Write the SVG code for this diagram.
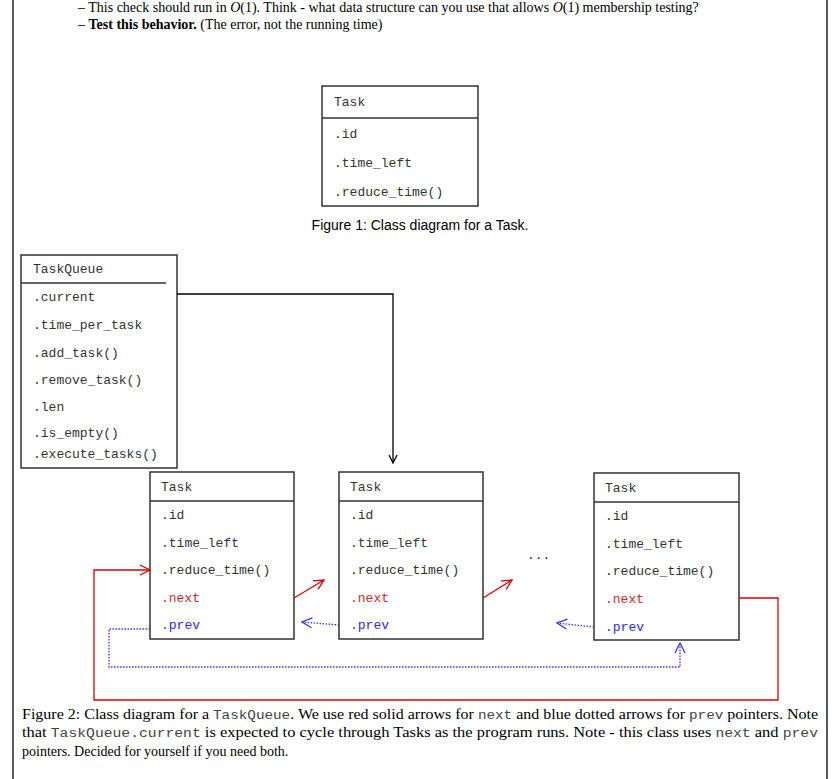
<svg xmlns="http://www.w3.org/2000/svg" width="836" height="779" viewBox="0 0 836 779">
<style>
.m{font-family:"Liberation Mono",monospace;font-size:13px;fill:#333}
.r{fill:#d62728}.b{fill:#2a2aff}
.s{font-family:"Liberation Serif",serif;font-size:14px;fill:#000}
.box{fill:#fff;stroke:#333;stroke-width:1.5}
.ln{fill:none;stroke:#333;stroke-width:1.5}
.red{fill:none;stroke:#d00;stroke-width:1.3}
.blu{fill:none;stroke:#33f;stroke-width:1.3;stroke-dasharray:1.5 1.5}
</style>
<defs>
<marker id="ab" markerWidth="10" markerHeight="10" refX="9" refY="5" orient="auto" markerUnits="userSpaceOnUse"><path d="M1,1 L9,5 L1,9" fill="none" stroke="#000" stroke-width="1.3"/></marker>
<marker id="ar" markerWidth="12" markerHeight="12" refX="11" refY="6" orient="auto" markerUnits="userSpaceOnUse"><path d="M1,1 L11,6 L1,11" fill="none" stroke="#d00" stroke-width="1.3"/></marker>
<marker id="au" markerWidth="12" markerHeight="12" refX="11" refY="6" orient="auto" markerUnits="userSpaceOnUse"><path d="M1,1 L11,6 L1,11" fill="none" stroke="#33f" stroke-width="1.3"/></marker>
</defs>
<rect width="836" height="779" fill="#fff"/>
<path d="M13,0V779M827,0V779" stroke="#000" stroke-width="1.3"/>
<text class="s" x="78" y="12">–  This check should run in <tspan font-style="italic">O</tspan>(1). Think - what data structure can you use that allows <tspan font-style="italic">O</tspan>(1) membership testing?</text>
<text class="s" x="78" y="29">–  <tspan font-weight="bold">Test this behavior.</tspan> (The error, not the running time)</text>

<g id="task-fig1">
<rect class="box" x="322" y="86" width="156" height="120"/>
<path class="ln" d="M322,118H478"/>
<text class="m" x="334" y="106">Task</text>
<text class="m" x="334" y="138">.id</text>
<text class="m" x="334" y="167">.time_left</text>
<text class="m" x="334" y="196">.reduce_time()</text>
</g>
<text class="s" x="420" y="230" text-anchor="middle" font-family="Liberation Sans Narrow, Liberation Sans, sans-serif" style="font-family:'Liberation Sans Narrow','Liberation Sans',sans-serif">Figure 1: Class diagram for a Task.</text>

<g id="taskqueue">
<rect class="box" x="21" y="255" width="156" height="213"/>
<path class="ln" d="M21,283H166"/>
<text class="m" x="33" y="273">TaskQueue</text>
<text class="m" x="33" y="301">.current</text>
<text class="m" x="33" y="329">.time_per_task</text>
<text class="m" x="33" y="357">.add_task()</text>
<text class="m" x="33" y="384">.remove_task()</text>
<text class="m" x="33" y="411">.len</text>
<text class="m" x="33" y="437">.is_empty()</text>
<text class="m" x="33" y="458">.execute_tasks()</text>
</g>

<g id="task1">
<rect class="box" x="150" y="472" width="144" height="167"/>
<path class="ln" d="M150,501H294"/>
<text class="m" x="161" y="491">Task</text>
<text class="m" x="161" y="519">.id</text>
<text class="m" x="161" y="547">.time_left</text>
<text class="m" x="161" y="574">.reduce_time()</text>
<text class="m r" x="161" y="602">.next</text>
<text class="m b" x="161" y="629">.prev</text>
</g>
<g id="task2">
<rect class="box" x="339" y="472" width="144" height="167"/>
<path class="ln" d="M339,501H483"/>
<text class="m" x="350" y="491">Task</text>
<text class="m" x="350" y="519">.id</text>
<text class="m" x="350" y="547">.time_left</text>
<text class="m" x="350" y="574">.reduce_time()</text>
<text class="m r" x="350" y="602">.next</text>
<text class="m b" x="350" y="629">.prev</text>
</g>
<g id="task3">
<rect class="box" x="594" y="473" width="145" height="167"/>
<path class="ln" d="M594,502H739"/>
<text class="m" x="605" y="492">Task</text>
<text class="m" x="605" y="520">.id</text>
<text class="m" x="605" y="548">.time_left</text>
<text class="m" x="605" y="575">.reduce_time()</text>
<text class="m r" x="605" y="603">.next</text>
<text class="m b" x="605" y="631">.prev</text>
</g>
<text class="m" x="527" y="559">...</text>

<g id="connectors">
<path d="M177,294H393V463" fill="none" stroke="#000" stroke-width="1.3" marker-end="url(#ab)"/>
<path class="red" d="M294,598L324,580" marker-end="url(#ar)"/>
<path class="red" d="M483,598L512,580" marker-end="url(#ar)"/>
<path class="blu" d="M339,625L302,622" marker-end="url(#au)"/>
<path class="blu" d="M594,627L557,623" marker-end="url(#au)"/>
<path class="red" d="M739,598H778V700H94V570H150" marker-end="url(#ar)"/>
<path class="blu" d="M150,629H109V667H680V643" marker-end="url(#au)"/>
</g>

<text x="22" y="719" textLength="796" lengthAdjust="spacingAndGlyphs" style="font-family:'Liberation Serif',serif;font-size:14px">Figure 2: Class diagram for a <tspan class="m" style="font-size:12.5px;fill:#444">TaskQueue</tspan>. We use red solid arrows for <tspan class="m" style="font-size:12.5px;fill:#444">next</tspan> and blue dotted arrows for <tspan class="m" style="font-size:12.5px;fill:#444">prev</tspan> pointers. Note</text>
<text x="22" y="737" textLength="796" lengthAdjust="spacingAndGlyphs" style="font-family:'Liberation Serif',serif;font-size:14px">that <tspan class="m" style="font-size:12.5px;fill:#444">TaskQueue.current</tspan> is expected to cycle through Tasks as the program runs. Note - this class uses <tspan class="m" style="font-size:12.5px;fill:#444">next</tspan> and <tspan class="m" style="font-size:12.5px;fill:#444">prev</tspan></text>
<text x="22" y="756" style="font-family:'Liberation Serif',serif;font-size:14px">pointers. Decided for yourself if you need both.</text>
</svg>
